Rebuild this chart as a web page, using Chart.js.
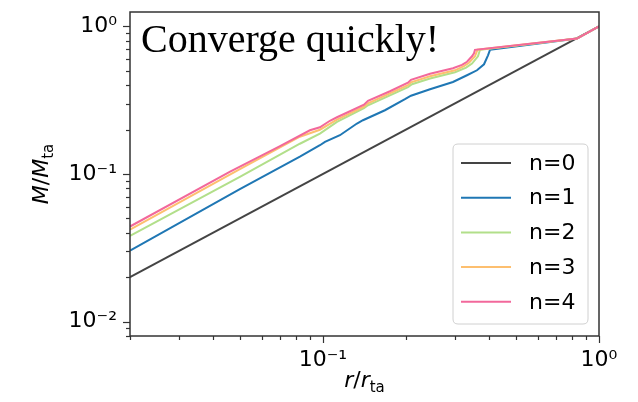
<!DOCTYPE html>
<html>
<head>
<meta charset="utf-8">
<script src="https://cdn.jsdelivr.net/npm/chart.js@4"></script>
<style>
  html, body { margin: 0; padding: 0; background: #fff; }
  #wrap { width: 638px; height: 402px; }
</style>
</head>
<body>
<div id="wrap"><canvas id="c" width="638" height="402"></canvas></div>
<script>
// ---- data ----
const seriesLabels = ['n=0', 'n=1', 'n=2', 'n=3', 'n=4'];
const seriesColors = ['#444444', '#1f77b4', '#b2df8a', '#fdbf6f', '#f2689b'];

const n0R = [0.02, 1];
const n0M = [0.02, 1];

const n1R = [0.02, 0.05, 0.0825, 0.0975, 0.1017, 0.1152, 0.1328, 0.1396, 0.1677, 0.1982, 0.2084, 0.2443, 0.2958, 0.3325, 0.3614, 0.3832, 0.3962, 0.4028, 0.8325, 1];
const n1M = [0.0303, 0.0789, 0.1309, 0.1566, 0.1649, 0.1830, 0.2196, 0.2312, 0.2702, 0.3208, 0.3387, 0.3748, 0.4199, 0.4661, 0.5038, 0.5533, 0.6364, 0.6934, 0.8257, 1];

const n2R = [0.02, 0.05, 0.0825, 0.0975, 0.1124, 0.1408, 0.1456, 0.2032, 0.2101, 0.2443, 0.3008, 0.3300, 0.3467, 0.3644, 0.3706, 0.8325, 1];
const n2M = [0.0381, 0.0956, 0.1603, 0.1879, 0.2252, 0.2787, 0.2920, 0.3867, 0.4052, 0.4427, 0.4884, 0.5250, 0.5594, 0.6266, 0.6934, 0.8257, 1];

const n3R = [0.02, 0.05, 0.0825, 0.0975, 0.1124, 0.1408, 0.1456, 0.2032, 0.2084, 0.2443, 0.3008, 0.3240, 0.3381, 0.3554, 0.3629, 0.8325, 1];
const n3M = [0.0420, 0.1078, 0.1788, 0.1994, 0.2331, 0.2853, 0.3013, 0.3989, 0.4180, 0.4587, 0.5038, 0.5370, 0.5663, 0.6266, 0.6934, 0.8257, 1];

const n4R = [0.02, 0.0461, 0.0699, 0.0897, 0.0975, 0.1060, 0.1124, 0.1253, 0.1408, 0.1456, 0.1749, 0.2032, 0.2084, 0.2443, 0.2958, 0.3189, 0.3325, 0.3467, 0.3525, 0.3554, 0.8325, 1];
const n4M = [0.0441, 0.1036, 0.1542, 0.1978, 0.2073, 0.2294, 0.2423, 0.2660, 0.2944, 0.3133, 0.3633, 0.4148, 0.4345, 0.4772, 0.5197, 0.5487, 0.5752, 0.6266, 0.6567, 0.6934, 0.8257, 1];

const xTickValues = [0.02, 0.03, 0.04, 0.05, 0.06, 0.07, 0.08, 0.09, 0.1, 0.2, 0.3, 0.4, 0.5, 0.6, 0.7, 0.8, 0.9, 1];
const xMajorTicks = [0.1, 1];
const xMajorLabels = ['10\u207B\u00B9', '10\u2070'];
const yTickValues = [0.008, 0.009, 0.01, 0.02, 0.03, 0.04, 0.05, 0.06, 0.07, 0.08, 0.09, 0.1, 0.2, 0.3, 0.4, 0.5, 0.6, 0.7, 0.8, 0.9, 1];
const yMajorTicks = [0.01, 0.1, 1];
const yMajorLabels = ['10\u207B\u00B2', '10\u207B\u00B9', '10\u2070'];

const annotationText = 'Converge quickly!';

// ---- build ----
const rArrays = [n0R, n1R, n2R, n3R, n4R];
const mArrays = [n0M, n1M, n2M, n3M, n4M];
const datasets = seriesLabels.map((lab, i) => ({
  label: lab,
  data: rArrays[i].map((r, j) => ({ x: r, y: mArrays[i][j] })),
  borderColor: seriesColors[i],
  backgroundColor: seriesColors[i],
  borderWidth: 2,
  pointRadius: 0,
  fill: false,
  tension: 0,
  order: seriesLabels.length - i
}));

function labelFor(v, majors, labels) {
  for (let k = 0; k < majors.length; k++) {
    if (Math.abs(v - majors[k]) / majors[k] < 1e-6) return labels[k];
  }
  return '';
}

const AXIS_COLOR = '#333333';

const decorPlugin = {
  id: 'decor',
  afterDraw(chart) {
    const ctx = chart.ctx;
    const a = chart.chartArea;
    const xs = chart.scales.x, ys = chart.scales.y;
    ctx.save();
    // tick marks
    ctx.strokeStyle = AXIS_COLOR;
    ctx.lineWidth = 1.2;
    xs.ticks.forEach(t => {
      const px = Math.round(xs.getPixelForValue(t.value)) + 0.5;
      const major = labelFor(t.value, xMajorTicks, xMajorLabels) !== '';
      const len = major ? 7 : 4;
      ctx.beginPath(); ctx.moveTo(px, a.bottom); ctx.lineTo(px, a.bottom + len); ctx.stroke();
    });
    ys.ticks.forEach(t => {
      const py = Math.round(ys.getPixelForValue(t.value)) + 0.5;
      const major = labelFor(t.value, yMajorTicks, yMajorLabels) !== '';
      const len = major ? 7 : 4;
      ctx.beginPath(); ctx.moveTo(a.left, py); ctx.lineTo(a.left - len, py); ctx.stroke();
    });
    // frame
    ctx.lineWidth = 1.5;
    ctx.strokeRect(a.left, a.top, a.right - a.left, a.bottom - a.top);

    // annotation
    ctx.fillStyle = '#000';
    ctx.font = '40px "Liberation Serif", serif';
    ctx.textBaseline = 'alphabetic';
    ctx.textAlign = 'left';
    ctx.fillText(annotationText, a.left + 11, 52);

    // axis titles
    const big = 22, small = 15;
    function drawTitle(main1, slash, main2, sub) {
      ctx.font = 'italic ' + big + 'px "DejaVu Sans"';
      const w1 = ctx.measureText(main1).width;
      const w3 = ctx.measureText(main2).width;
      ctx.font = big + 'px "DejaVu Sans"';
      const w2 = ctx.measureText(slash).width;
      ctx.font = small + 'px "DejaVu Sans"';
      const w4 = ctx.measureText(sub).width;
      const total = w1 + w2 + w3 + w4;
      let x = -total / 2;
      ctx.textAlign = 'left';
      ctx.font = 'italic ' + big + 'px "DejaVu Sans"';
      ctx.fillText(main1, x, 0); x += w1;
      ctx.font = big + 'px "DejaVu Sans"';
      ctx.fillText(slash, x, 0); x += w2;
      ctx.font = 'italic ' + big + 'px "DejaVu Sans"';
      ctx.fillText(main2, x, 0); x += w3;
      ctx.font = small + 'px "DejaVu Sans"';
      ctx.fillText(sub, x, 5);
    }
    ctx.save();
    ctx.translate((a.left + a.right) / 2, 387);
    drawTitle('r', '/', 'r', 'ta');
    ctx.restore();
    ctx.save();
    ctx.translate(48, (a.top + a.bottom) / 2);
    ctx.rotate(-Math.PI / 2);
    drawTitle('M', '/', 'M', 'ta');
    ctx.restore();

    // legend
    const lx = 453, ly = 144, lw = 135, lh = 180, rad = 5;
    ctx.beginPath();
    ctx.moveTo(lx + rad, ly);
    ctx.lineTo(lx + lw - rad, ly); ctx.quadraticCurveTo(lx + lw, ly, lx + lw, ly + rad);
    ctx.lineTo(lx + lw, ly + lh - rad); ctx.quadraticCurveTo(lx + lw, ly + lh, lx + lw - rad, ly + lh);
    ctx.lineTo(lx + rad, ly + lh); ctx.quadraticCurveTo(lx, ly + lh, lx, ly + lh - rad);
    ctx.lineTo(lx, ly + rad); ctx.quadraticCurveTo(lx, ly, lx + rad, ly);
    ctx.closePath();
    ctx.fillStyle = 'rgba(255,255,255,0.8)';
    ctx.fill();
    ctx.strokeStyle = '#d0d0d0';
    ctx.lineWidth = 1;
    ctx.stroke();
    ctx.font = '22px "DejaVu Sans"';
    ctx.textBaseline = 'middle';
    chart.data.datasets.forEach((ds, i) => {
      const cy = 163 + i * 34.7;
      ctx.strokeStyle = ds.borderColor;
      ctx.lineWidth = 2;
      ctx.beginPath(); ctx.moveTo(461, cy); ctx.lineTo(511, cy); ctx.stroke();
      ctx.fillStyle = '#000';
      ctx.fillText(ds.label, 529, cy + 1);
    });
    ctx.restore();
  }
};

new Chart(document.getElementById('c'), {
  type: 'line',
  data: { datasets },
  options: {
    responsive: false,
    animation: false,
    devicePixelRatio: 1,
    layout: { padding: { left: 0, right: 39, top: 12, bottom: 0 } },
    plugins: { legend: { display: false }, tooltip: { enabled: false } },
    scales: {
      x: {
        type: 'logarithmic',
        min: 0.02, max: 1,
        afterBuildTicks(s) { s.ticks = xTickValues.map(v => ({ value: v })); },
        afterFit(s) { s.height = 66; s.paddingLeft = 0; s.paddingRight = 0; },
        ticks: {
          autoSkip: false, maxRotation: 0, minRotation: 0, padding: 4,
          color: '#000', font: { family: 'DejaVu Sans', size: 22 },
          callback(v) { return labelFor(v, xMajorTicks, xMajorLabels); }
        },
        grid: { drawOnChartArea: false, drawTicks: true, tickLength: 7, color: 'rgba(0,0,0,0)' },
        border: { display: false }
      },
      y: {
        type: 'logarithmic',
        min: 0.008, max: 1.25,
        afterBuildTicks(s) { s.ticks = yTickValues.map(v => ({ value: v })); },
        afterFit(s) { s.width = 130; s.paddingTop = 0; s.paddingBottom = 0; },
        ticks: {
          autoSkip: false, padding: 6,
          color: '#000', font: { family: 'DejaVu Sans', size: 22 },
          callback(v) { return labelFor(v, yMajorTicks, yMajorLabels); }
        },
        grid: { drawOnChartArea: false, drawTicks: true, tickLength: 7, color: 'rgba(0,0,0,0)' },
        border: { display: false }
      }
    }
  },
  plugins: [decorPlugin]
});
</script>
</body>
</html>
